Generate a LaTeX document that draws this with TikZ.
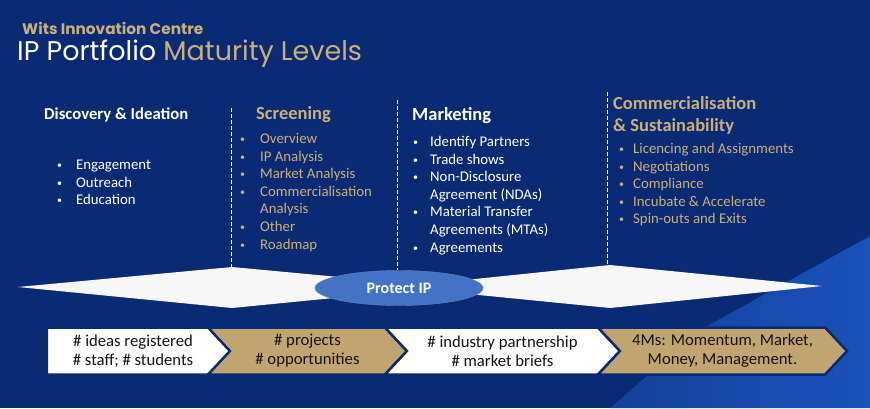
\documentclass[tikz,border=0pt]{standalone}
\usepackage{fontspec}
\setmainfont{Carlito}
\newfontfamily\witsfont{Poppins}
\usetikzlibrary{shapes.geometric,shapes.symbols,positioning}
\definecolor{witsNavy}{RGB}{10,42,115}
\definecolor{witsSky}{RGB}{26,82,186}
\definecolor{witsGold}{RGB}{201,176,122}
\definecolor{witsChevGold}{RGB}{193,165,113}
\definecolor{witsOval}{RGB}{68,114,196}
\definecolor{witsBand}{RGB}{246,246,246}
\definecolor{witsInk}{RGB}{20,20,20}
\newcommand{\stagedot}{\raisebox{0.15ex}{\fontsize{10}{10}\selectfont\textbullet}}
\newcommand{\stageitems}[2]{\begin{tabular}{@{}l@{\hspace{#1}}l@{}}#2\end{tabular}}
\tikzset{
  stagehead/.style={anchor=west, inner sep=0pt, font=\fontsize{18.5}{22}\selectfont\bfseries},
  stagelist/.style={anchor=north west, inner sep=0pt, align=left, font=\fontsize{14.8}{17.6}\selectfont},
  stagesep/.style={draw=white, line width=1pt, dash pattern=on 4pt off 2pt},
  bandbox/.style={fill=witsBand, draw=none},
  protectoval/.style={ellipse, fill=witsOval, draw=witsOval!85!white, minimum width=168pt,
    minimum height=35pt, inner sep=0pt, text=white, font=\fontsize{16}{18}\selectfont\bfseries},
  chevron/.style={signal, signal to=east, signal pointer angle=94, draw=witsNavy, line width=2.5pt,
    minimum height=47pt, align=center, text=witsInk, inner sep=0pt,
    font=\fontsize{16.7}{19}\selectfont},
  chevwhite/.style={chevron, fill=white},
  chevgold/.style={chevron, fill=witsChevGold},
}

\begin{document}
\begin{tikzpicture}[x=1pt,y=-1pt]
  % --- background ---
  \fill[witsNavy] (0,0) rectangle (870,408);
  \shade[left color=witsNavy!45!witsSky, right color=witsSky]
    (870,236) -- (700,330) -- (610,408) -- (870,408) -- cycle;
  \useasboundingbox (0,0) rectangle (870,408);

  % --- title ---
  \node[anchor=west, inner sep=0pt, text=witsGold, font=\witsfont\fontsize{15.3}{17}\selectfont\bfseries]
    (centre) at (22,28) {Wits Innovation Centre};
  \node[anchor=west, inner sep=0pt, font=\witsfont\fontsize{27}{32}\selectfont]
    (title) at (17,54) {\textcolor{white}{IP Portfolio} \textcolor{witsGold}{Maturity Levels}};

  % --- stage headings ---
  \node[stagehead, text=white, font=\fontsize{16.7}{20}\selectfont\bfseries] (discovery) at (44,115)
    {Discovery \& Ideation};
  \node[stagehead, text=witsGold] (screening) at (256,115) {Screening};
  \node[stagehead, text=white] (marketing) at (412,116) {Marketing};
  \node[stagehead, text=witsGold, align=left] (commercial) at (613,115)
    {Commercialisation\\\& Sustainability};

  % --- stage lists ---
  \node[stagelist, text=white] (discoverylist) at (57,157)
    {\stageitems{14pt}{\stagedot & Engagement\\ \stagedot & Outreach\\ \stagedot & Education}};
  \node[stagelist, text=witsGold] (screeninglist) at (240,131)
    {\stageitems{15pt}{\stagedot & Overview\\ \stagedot & IP Analysis\\ \stagedot & Market Analysis\\
      \stagedot & Commercialisation\\ & Analysis\\ \stagedot & Other\\ \stagedot & Roadmap}};
  \node[stagelist, text=white] (marketinglist) at (413,134)
    {\stageitems{12pt}{\stagedot & Identify Partners\\ \stagedot & Trade shows\\ \stagedot & Non-Disclosure\\
      & Agreement (NDAs)\\ \stagedot & Material Transfer\\ & Agreements (MTAs)\\ \stagedot & Agreements}};
  \node[stagelist, text=witsGold] (commerciallist) at (619,141)
    {\stageitems{9pt}{\stagedot & Licencing and Assignments\\ \stagedot & Negotiations\\ \stagedot & Compliance\\
      \stagedot & Incubate \& Accelerate\\ \stagedot & Spin-outs and Exits}};

  % --- separators ---
  \draw[stagesep] (231,108) -- (231,268);
  \draw[stagesep] (397,100) -- (397,270);
  \draw[stagesep] (607,92) -- (607,266);

  % --- protection band ---
  \fill[bandbox] (18,287) -- (232,267) -- (446,287) -- (232,308) -- cycle;
  \fill[bandbox] (398,287) -- (610,265) -- (822,286) -- (610,308) -- cycle;
  \node[protectoval] (protect) at (399,288) {Protect IP};

  % --- measures ---
  \node[chevwhite, minimum width=194pt] (ideas) at (133,351)
    {\# ideas registered\\\# staff; \# students};
  \node[chevgold, signal from=west, minimum width=199pt] (projects) at (307.5,351)
    {\# projects\\\# opportunities};
  \node[chevwhite, signal from=west, minimum width=235pt] (industry) at (502.5,351)
    {\# industry partnership\\\# market briefs};
  \node[chevgold, signal from=west, minimum width=249pt] (fourms) at (722.5,351)
    {4Ms: Momentum, Market,\\Money, Management.};
\end{tikzpicture}
\end{document}
